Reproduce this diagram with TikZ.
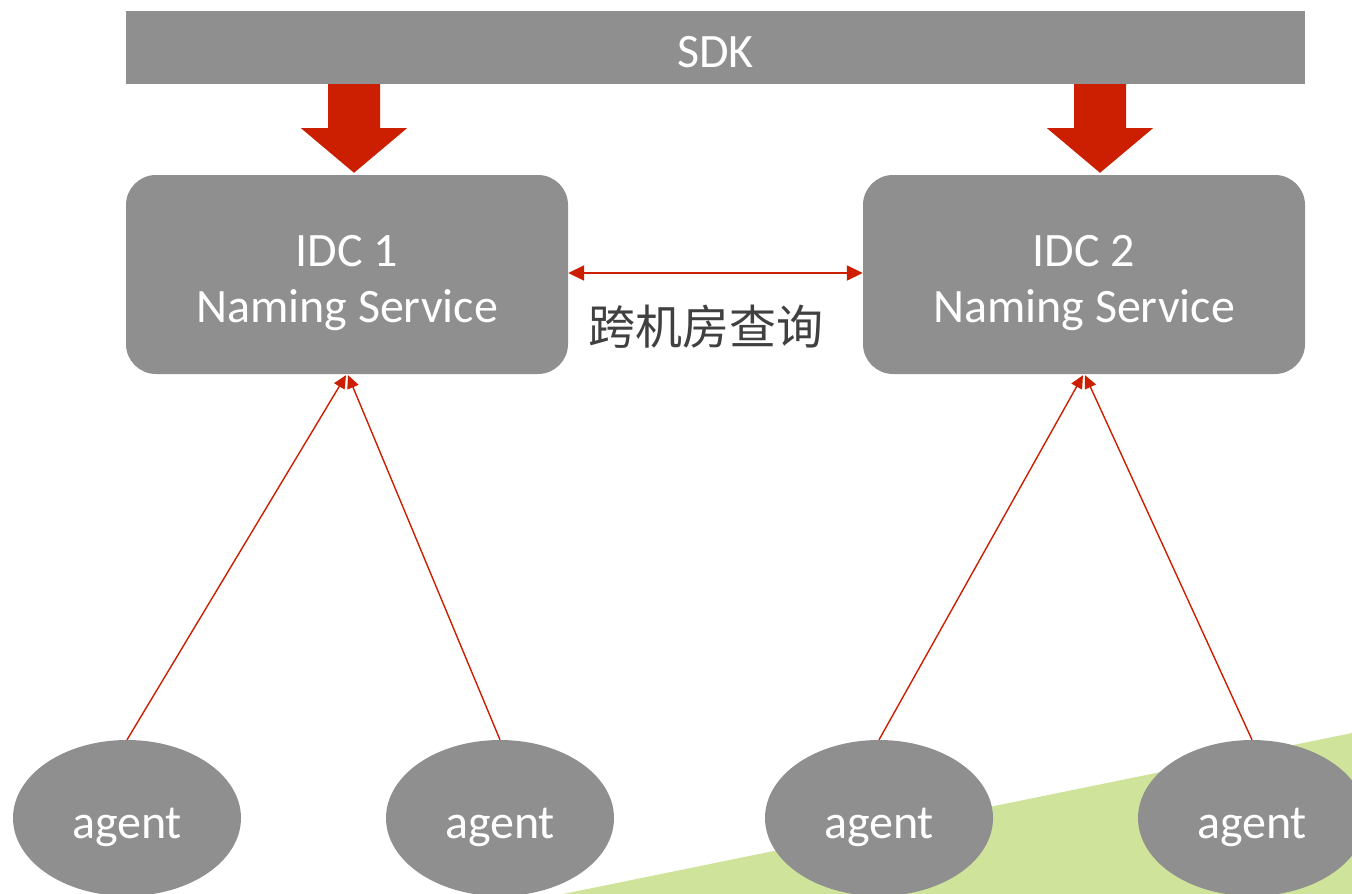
\documentclass[tikz,border=0pt]{standalone}
\usepackage{fontspec}
\setmainfont{Carlito}
\newfontfamily\cjk{Noto Sans CJK SC}
\usetikzlibrary{shapes.geometric,arrows.meta,calc}
\definecolor{boxgray}{RGB}{143,143,143}
\definecolor{linkred}{RGB}{204,30,0}
\definecolor{leafgreen}{RGB}{207,227,155}
\definecolor{labelgray}{RGB}{64,64,64}
\tikzset{
  graybox/.style={fill=boxgray, draw=none},
  whitetext/.style={text=white, align=center, font=\fontsize{48}{56}\selectfont, inner sep=0pt},
  idcbox/.style={graybox, rounded corners=30pt, minimum width=442pt, minimum height=199pt},
  agentnode/.style={graybox, ellipse, minimum width=228pt, minimum height=156pt, inner sep=0pt},
  uplink/.style={draw=linkred, line width=1.4pt, -{Triangle[length=13pt,width=12pt]}},
  crosslink/.style={draw=linkred, line width=1.8pt, {Triangle[length=16pt,width=15pt]}-{Triangle[length=16pt,width=15pt]}},
  bigarrow/.style={fill=linkred, draw=none}
}
\begin{document}
\begin{tikzpicture}[x=1pt,y=-1pt]
\useasboundingbox (0,0) rectangle (1352,894);
% background wedge
\fill[leafgreen] (563,894) -- (1352,733) -- (1352,894) -- cycle;

% SDK bar
\node[graybox, minimum width=1179pt, minimum height=73pt, inner sep=0pt] (sdk) at (715.5,47.5) {};
\node[whitetext] (sdkt) at ($(sdk.center)+(0,5)$) {SDK};

% naming services
\node[idcbox] (idc1) at (347,274.5) {};
\node[idcbox] (idc2) at (1084,274.5) {};
\node[whitetext] (idc1t) at ($(idc1.center)+(0,8.5)$) {IDC 1\\Naming Service};
\node[whitetext] (idc2t) at ($(idc2.center)+(0,8.5)$) {IDC 2\\Naming Service};

% block arrows from the SDK down to each IDC
\foreach \cx/\tgt in {354/idc1, 1100/idc2}{
  \fill[bigarrow]
    ($(sdk.south) + (\cx-715.5,0) + (-26,0)$) --
    ($(sdk.south) + (\cx-715.5,0) + (26,0)$) --
    ($(sdk.south) + (\cx-715.5,0) + (26,44)$) --
    ($(sdk.south) + (\cx-715.5,0) + (53,44)$) --
    ($(\tgt.north -| \cx,0) + (0,-2)$) --
    ($(sdk.south) + (\cx-715.5,0) + (-53,44)$) --
    ($(sdk.south) + (\cx-715.5,0) + (-26,44)$) -- cycle;
}

% cross-IDC query
\draw[crosslink] (idc1.east |- 0,273) -- (idc2.west |- 0,273);
\node[text=labelgray, font=\cjk\fontsize{47}{54}\selectfont] (xq) at (706,327) {跨机房查询};

% agents
\node[agentnode] (a1) at (127,818) {};
\node[agentnode] (a2) at (500,818) {};
\node[agentnode] (a3) at (879,818) {};
\node[agentnode] (a4) at (1252,818) {};
\foreach \a in {a1,a2,a3,a4}
  \node[whitetext] (\a t) at ($(\a.center)+(0,9)$) {agent};

% registrations
\draw[uplink] (a1.north) -- ($(idc1.south)+(-1,1)$);
\draw[uplink] (a2.north) -- ($(idc1.south)+(1,1)$);
\draw[uplink] (a3.north) -- ($(idc2.south)+(-1,1)$);
\draw[uplink] (a4.north) -- ($(idc2.south)+(1,1)$);
\end{tikzpicture}
\end{document}
